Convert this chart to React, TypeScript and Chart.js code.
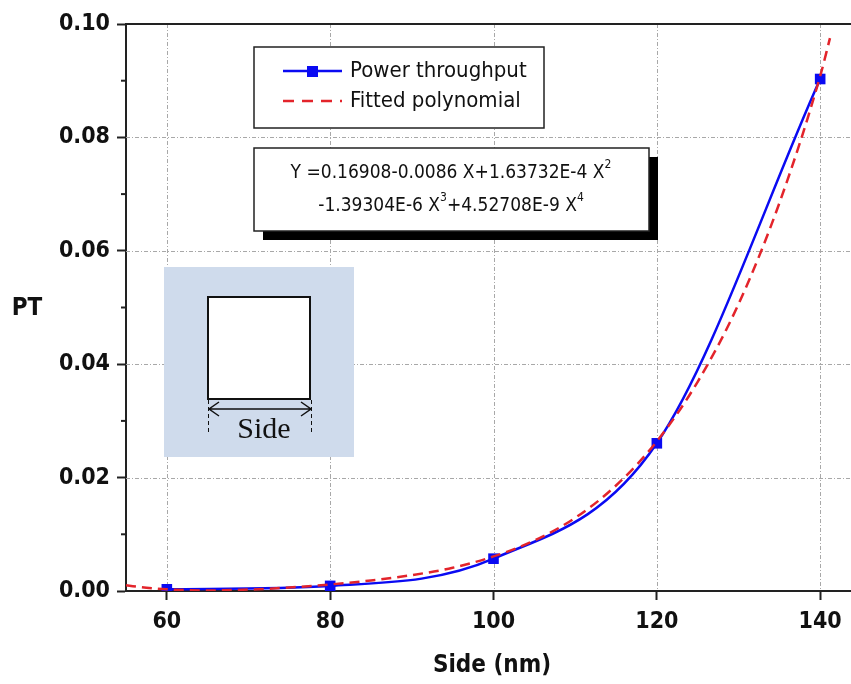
import React, { useEffect, useRef } from "react";
import { Chart, registerables } from "chart.js";

Chart.register(...registerables);

// ---- data ----
const sideNm = [60, 80, 100, 120, 140];
const powerThroughput = [0.0003, 0.0009, 0.0057, 0.02605, 0.0903];

const fitSide = [55, 57.5, 60, 65, 70, 75, 80, 85, 90, 95, 100, 105, 110, 115, 120, 125, 130, 135, 140, 141.2];
const fitValues = [0.001, 0.00058, 0.0003, 0.0001, 0.00025, 0.00062, 0.00116, 0.00186, 0.0028, 0.0041, 0.0061, 0.0089, 0.0129, 0.0186, 0.0264, 0.0369, 0.0506, 0.0684, 0.0908, 0.0975];

const xTicks = [60, 80, 100, 120, 140];
const yTicks = [0, 0.02, 0.04, 0.06, 0.08, 0.1];
const yMinorTicks = [0.01, 0.03, 0.05, 0.07, 0.09];

const legendLabels = ["Power throughput", "Fitted polynomial"];
const eqLine1: [string, boolean][] = [["Y =0.16908-0.0086 X+1.63732E-4 X", false], ["2", true]];
const eqLine2: [string, boolean][] = [["-1.39304E-6 X", false], ["3", true], ["+4.52708E-9 X", false], ["4", true]];
const xTitle = "Side (nm)";
const yTitle = "PT";
const insetLabel = "Side";

const SANS = "'DejaVu Sans Condensed', 'DejaVu Sans', sans-serif";
const SERIF = "'Liberation Serif', 'DejaVu Serif', serif";
const BLUE = "#0a0af2";
const RED = "#e3242b";

const overlayPlugin = {
  id: "overlay",
  beforeDatasetsDraw(chart: any) {
    const { ctx, chartArea: a, scales } = chart;
    const x = scales.x;
    const y = scales.y;
    ctx.save();
    ctx.strokeStyle = "#a8a8a8";
    ctx.lineWidth = 1;
    ctx.setLineDash([4, 2, 1, 2]);
    xTicks.forEach((v) => {
      const px = Math.round(x.getPixelForValue(v)) + 0.5;
      ctx.beginPath();
      ctx.moveTo(px, a.top);
      ctx.lineTo(px, a.bottom);
      ctx.stroke();
    });
    yTicks.forEach((v) => {
      if (v <= 0 || v >= 0.1) return;
      const py = Math.round(y.getPixelForValue(v)) + 0.5;
      ctx.beginPath();
      ctx.moveTo(a.left, py);
      ctx.lineTo(a.right, py);
      ctx.stroke();
    });
    ctx.restore();
  },
  afterDraw(chart: any) {
    const { ctx, chartArea: a, scales } = chart;
    const y = scales.y;
    ctx.save();
    // frame top/right
    ctx.strokeStyle = "#222";
    ctx.lineWidth = 2;
    ctx.beginPath();
    ctx.moveTo(a.left, a.top);
    ctx.lineTo(a.right, a.top);
    ctx.lineTo(a.right, a.bottom);
    ctx.stroke();
    // minor y ticks
    yMinorTicks.forEach((v) => {
      const py = y.getPixelForValue(v);
      ctx.beginPath();
      ctx.moveTo(a.left - 5, py);
      ctx.lineTo(a.left, py);
      ctx.stroke();
    });
    // titles
    ctx.fillStyle = "#111";
    ctx.font = `bold 24px ${SANS}`;
    ctx.textAlign = "center";
    ctx.textBaseline = "middle";
    ctx.fillText(yTitle, 27, 309);
    ctx.fillText(xTitle, 492, 666);

    // legend box
    ctx.fillStyle = "#fff";
    ctx.fillRect(254, 47, 290, 81);
    ctx.lineWidth = 1.5;
    ctx.strokeStyle = "#222";
    ctx.strokeRect(254, 47, 290, 81);
    ctx.strokeStyle = BLUE;
    ctx.lineWidth = 2.5;
    ctx.beginPath();
    ctx.moveTo(283, 71);
    ctx.lineTo(342, 71);
    ctx.stroke();
    ctx.fillStyle = BLUE;
    ctx.fillRect(307, 66, 11, 11);
    ctx.strokeStyle = RED;
    ctx.lineWidth = 2.5;
    ctx.setLineDash([11, 8]);
    ctx.beginPath();
    ctx.moveTo(283, 101);
    ctx.lineTo(342, 101);
    ctx.stroke();
    ctx.setLineDash([]);
    ctx.fillStyle = "#111";
    ctx.font = `22px ${SANS}`;
    ctx.textAlign = "left";
    ctx.fillText(legendLabels[0], 350, 71);
    ctx.fillText(legendLabels[1], 350, 101);

    // equation box
    ctx.fillStyle = "#000";
    ctx.fillRect(263, 157, 395, 83);
    ctx.fillStyle = "#fff";
    ctx.fillRect(254, 148, 395, 83);
    ctx.strokeStyle = "#222";
    ctx.lineWidth = 1.5;
    ctx.strokeRect(254, 148, 395, 83);
    const drawLine = (segs: [string, boolean][], cx: number, cy: number) => {
      const widths = segs.map(([t, sup]) => {
        ctx.font = sup ? `12px ${SANS}` : `19px ${SANS}`;
        return ctx.measureText(t).width;
      });
      const total = widths.reduce((s, w) => s + w, 0);
      let xx = cx - total / 2;
      ctx.textAlign = "left";
      segs.forEach(([t, sup], i) => {
        ctx.font = sup ? `12px ${SANS}` : `19px ${SANS}`;
        ctx.fillStyle = "#111";
        ctx.fillText(t, xx, sup ? cy - 8 : cy);
        xx += widths[i];
      });
    };
    ctx.textBaseline = "middle";
    drawLine(eqLine1, 451, 173);
    drawLine(eqLine2, 451, 206);

    // inset
    ctx.fillStyle = "#cfdbec";
    ctx.fillRect(164, 267, 190, 190);
    ctx.fillStyle = "#fff";
    ctx.fillRect(208, 297, 102, 102);
    ctx.strokeStyle = "#111";
    ctx.lineWidth = 2;
    ctx.strokeRect(208, 297, 102, 102);
    ctx.lineWidth = 1.5;
    ctx.beginPath();
    ctx.moveTo(209, 409);
    ctx.lineTo(311, 409);
    ctx.moveTo(219, 402);
    ctx.lineTo(209, 409);
    ctx.lineTo(219, 416);
    ctx.moveTo(301, 402);
    ctx.lineTo(311, 409);
    ctx.lineTo(301, 416);
    ctx.stroke();
    ctx.lineWidth = 1;
    ctx.setLineDash([4, 3]);
    ctx.beginPath();
    ctx.moveTo(208.5, 400);
    ctx.lineTo(208.5, 432);
    ctx.moveTo(311.5, 400);
    ctx.lineTo(311.5, 432);
    ctx.stroke();
    ctx.setLineDash([]);
    ctx.fillStyle = "#111";
    ctx.font = `30px ${SERIF}`;
    ctx.textAlign = "center";
    ctx.textBaseline = "alphabetic";
    ctx.fillText(insetLabel, 264, 438);
    ctx.restore();
  },
};

export default function App() {
  const ref = useRef<HTMLCanvasElement | null>(null);
  useEffect(() => {
    if (!ref.current) return;
    const tickFont = { family: SANS, size: 23, weight: "bold" as const };
    const chart = new Chart(ref.current, {
      type: "line",
      data: {
        datasets: [
          {
            label: legendLabels[1],
            data: fitSide.map((v, i) => ({ x: v, y: fitValues[i] })),
            borderColor: RED,
            borderWidth: 2.5,
            borderDash: [10, 6],
            pointRadius: 0,
            fill: false,
            cubicInterpolationMode: "monotone",
          },
          {
            label: legendLabels[0],
            data: sideNm.map((v, i) => ({ x: v, y: powerThroughput[i] })),
            borderColor: BLUE,
            backgroundColor: BLUE,
            borderWidth: 2.5,
            pointStyle: "rect",
            pointRadius: 7.5,
            pointBorderWidth: 0,
            fill: false,
            cubicInterpolationMode: "monotone",
          },
        ],
      },
      options: {
        responsive: false,
        animation: false,
        events: [],
        layout: { padding: { left: 0, right: 9, top: 24, bottom: 0 } },
        plugins: { legend: { display: false }, tooltip: { enabled: false } },
        scales: {
          x: {
            type: "linear",
            min: 55,
            max: 145,
            afterBuildTicks: (s: any) => {
              s.ticks = xTicks.map((v) => ({ value: v }));
            },
            afterFit: (s: any) => {
              s.height = 93;
            },
            ticks: {
              font: tickFont,
              color: "#111",
              padding: 8,
              maxRotation: 0,
              autoSkip: false,
              callback: (v: any) => String(v),
            },
            grid: { drawOnChartArea: false, drawTicks: true, tickLength: 9, tickColor: "#222", tickWidth: 2 },
            border: { color: "#222", width: 2 },
          },
          y: {
            type: "linear",
            min: 0,
            max: 0.1,
            afterBuildTicks: (s: any) => {
              s.ticks = yTicks.map((v) => ({ value: v }));
            },
            afterFit: (s: any) => {
              s.width = 126;
            },
            ticks: {
              font: tickFont,
              color: "#111",
              padding: 7,
              autoSkip: false,
              callback: (v: any) => Number(v).toFixed(2),
            },
            grid: { drawOnChartArea: false, drawTicks: true, tickLength: 9, tickColor: "#222", tickWidth: 2 },
            border: { color: "#222", width: 2 },
          },
        },
      },
      plugins: [overlayPlugin],
    });
    return () => chart.destroy();
  }, []);
  return (
    <div style={{ position: "absolute", left: 0, top: 0, width: 851, height: 684, overflow: "hidden", background: "#fff" }}>
      <canvas ref={ref} width={870} height={684} style={{ display: "block", width: 870, height: 684 }} />
    </div>
  );
}
